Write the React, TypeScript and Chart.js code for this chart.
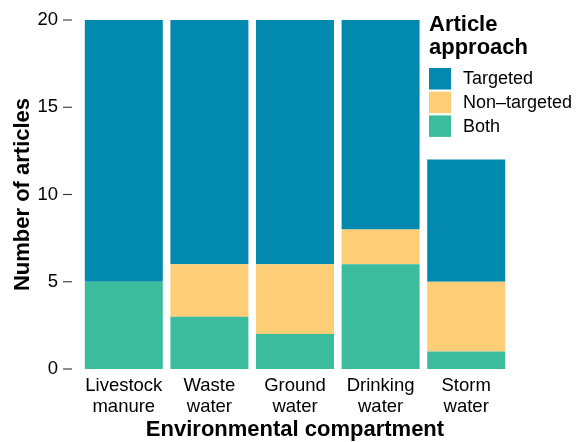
import React, { useEffect, useRef } from "react";
import { Chart, registerables } from "chart.js";

Chart.register(...registerables);

const categories: string[][] = [
  ["Livestock", "manure"],
  ["Waste", "water"],
  ["Ground", "water"],
  ["Drinking", "water"],
  ["Storm", "water"],
];
const bothValues = [5, 3, 2, 6, 1];
const nonTargetedValues = [0, 3, 4, 2, 4];
const targetedValues = [15, 14, 14, 12, 7];
const yTicks = [0, 5, 10, 15, 20];

const seriesLabels = ["Both", "Non–targeted", "Targeted"];
const seriesColors = ["#3BBC9D", "#FECE76", "#0189B0"];
const legendTitle = ["Article", "approach"];
const xTitle = "Environmental compartment";
const yTitle = "Number of articles";

const FONT = "'Liberation Sans', Arial, Helvetica, sans-serif";

const tickMarkPlugin = {
  id: "tickMarks",
  afterDraw(chart: any) {
    const ctx = chart.ctx;
    const y = chart.scales.y;
    const left = chart.chartArea.left;
    ctx.save();
    ctx.strokeStyle = "#333333";
    ctx.lineWidth = 1.1;
    y.ticks.forEach((t: any) => {
      const py = y.getPixelForValue(t.value);
      ctx.beginPath();
      ctx.moveTo(left - 18, py);
      ctx.lineTo(left - 9, py);
      ctx.stroke();
    });
    ctx.restore();
  },
};

const legendPlugin = {
  id: "insideLegend",
  afterDraw(chart: any) {
    const ctx = chart.ctx;
    const x0 = 429;
    ctx.save();
    ctx.fillStyle = "#000000";
    ctx.textAlign = "left";
    ctx.textBaseline = "alphabetic";
    ctx.font = `bold 22px ${FONT}`;
    ctx.fillText(legendTitle[0], x0, 31);
    ctx.fillText(legendTitle[1], x0, 54);
    const ds = chart.data.datasets.slice().reverse();
    ds.forEach((d: any, i: number) => {
      const top = 68 + i * 23.7;
      ctx.fillStyle = d.backgroundColor;
      ctx.fillRect(x0, top, 22, 21.5);
      ctx.fillStyle = "#000000";
      ctx.font = `18px ${FONT}`;
      ctx.textBaseline = "middle";
      ctx.fillText(d.label, 463, top + 11.5);
    });
    ctx.restore();
  },
};

export default function App() {
  const ref = useRef<HTMLCanvasElement | null>(null);
  useEffect(() => {
    if (!ref.current) return;
    const values = [bothValues, nonTargetedValues, targetedValues];
    const chart = new Chart(ref.current, {
      type: "bar",
      data: {
        labels: categories,
        datasets: values.map((v, i) => ({
          label: seriesLabels[i],
          data: v,
          backgroundColor: seriesColors[i],
          borderWidth: 0,
          categoryPercentage: 1,
          barPercentage: 0.911,
        })),
      },
      options: {
        animation: false,
        responsive: true,
        maintainAspectRatio: false,
        layout: { padding: { top: 20, right: 72, bottom: 0, left: 0 } },
        plugins: { legend: { display: false }, tooltip: { enabled: false } },
        scales: {
          x: {
            stacked: true,
            offset: true,
            grid: { display: false, drawTicks: false },
            border: { display: false },
            ticks: {
              color: "#000000",
              padding: 6,
              font: { family: FONT, size: 18.5, lineHeight: 1.15 },
              maxRotation: 0,
              autoSkip: false,
            },
            title: {
              display: true,
              text: xTitle,
              color: "#000000",
              font: { family: FONT, size: 22, weight: "bold", lineHeight: 1.1 },
              padding: { top: 0, bottom: 0 },
            },
            afterFit(scale: any) {
              scale.height = 73;
              scale.paddingLeft = 0;
              scale.paddingRight = 0;
            },
          },
          y: {
            stacked: true,
            min: 0,
            max: 20,
            afterBuildTicks(scale: any) {
              scale.ticks = yTicks.map((v) => ({ value: v }));
            },
            grid: { display: false, drawTicks: false },
            border: { display: false },
            ticks: {
              color: "#000000",
              padding: 23,
              font: { family: FONT, size: 18.5 },
            },
            title: {
              display: true,
              text: yTitle,
              color: "#000000",
              font: { family: FONT, size: 22, weight: "bold", lineHeight: 1.2 },
              padding: { top: 10, bottom: 0 },
            },
            afterFit(scale: any) {
              scale.width = 81;
              scale.paddingTop = 0;
              scale.paddingBottom = 0;
            },
          },
        },
      },
      plugins: [tickMarkPlugin, legendPlugin],
    } as any);
    return () => chart.destroy();
  }, []);
  return (
    <div style={{ position: "absolute", left: 0, top: 0, width: 581, height: 442, background: "#ffffff" }}>
      <canvas ref={ref} />
    </div>
  );
}
